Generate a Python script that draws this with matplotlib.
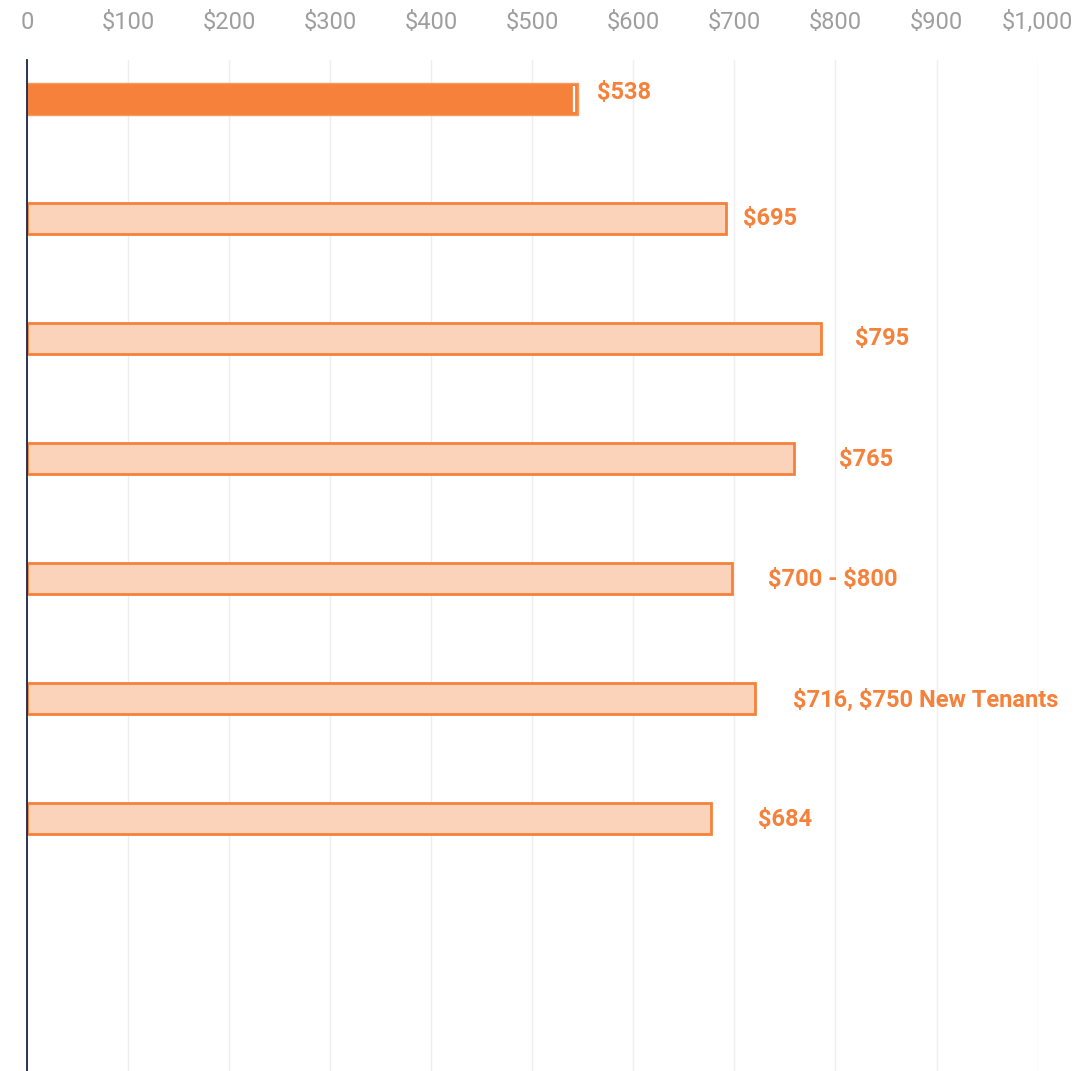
import matplotlib
matplotlib.use("Agg")
import matplotlib.pyplot as plt
from matplotlib.ticker import FixedLocator

plt.rcParams['font.family'] = ['Roboto', 'DejaVu Sans']
plt.rcParams['text.parse_math'] = False

# Data
bar_values = [545, 692, 786, 759, 698, 720, 677]
marker_value = 541.5  # white tick inside the first bar
value_labels = ["$538", "$695", "$795", "$765", "$700 - $800",
                "$716, $750 New Tenants", "$684"]
label_x = [564, 708, 819, 803, 733, 758, 723]
label_dy = [-0.05, 0.0, 0.0, 0.01, 0.01, 0.02, 0.01]
tick_values = [0, 100, 200, 300, 400, 500, 600, 700, 800, 900, 1000]
tick_labels = ["0", "$100", "$200", "$300", "$400", "$500", "$600",
               "$700", "$800", "$900", "$1,000"]

W, H = 1084, 1071
fig = plt.figure(figsize=(W / 100, H / 100), dpi=100)
left = 27 / W
right = 1037.6 / W
top = 1 - 60 / H
ax = fig.add_axes([left, 0, right - left, top])

orange = "#f5813a"
light = "#fbd3bb"

n = len(bar_values)
bar_h = 0.26
for i, v in enumerate(bar_values):
    if i == 0:
        ax.barh(i, v, height=bar_h, color=orange, edgecolor="#f79a60",
                linewidth=1.0, zorder=3)
    else:
        ax.barh(i, v, height=bar_h, color=light, edgecolor=orange,
                linewidth=2.0, zorder=3)
    ax.text(label_x[i], i + label_dy[i], value_labels[i], color=orange,
            fontsize=17, fontweight="semibold", va="center", ha="left",
            zorder=4)

ax.plot([marker_value, marker_value], [-0.105, 0.105], color="white",
        linewidth=1.6, zorder=4, solid_capstyle="butt")

ax.set_xlim(0, 1000)
ax.set_ylim(8.11, -0.325)

ax.xaxis.set_major_locator(FixedLocator(tick_values))
ax.set_xticklabels(tick_labels)
ax.xaxis.tick_top()
ax.tick_params(axis="x", length=0, pad=19, labelsize=17, labelcolor="#9e9e9e")
ax.set_yticks([])
ax.grid(axis="x", color="#efefef", linewidth=1.0, zorder=0)
ax.set_axisbelow(True)
for s in ["top", "right", "bottom"]:
    ax.spines[s].set_visible(False)
ax.spines["left"].set_color("#1c2541")
ax.spines["left"].set_linewidth(1.3)
ax.spines["left"].set_zorder(5)

fig.savefig("out.png", dpi=100, facecolor="white")
